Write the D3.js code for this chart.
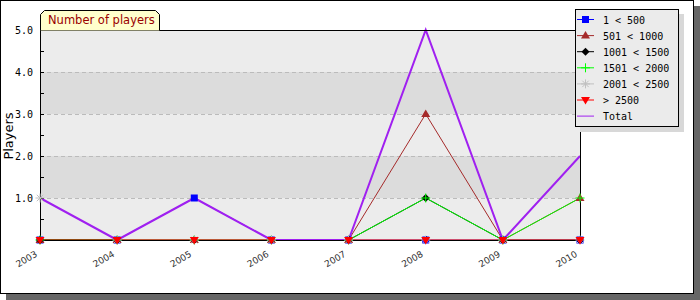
<!DOCTYPE html>
<html>
<head>
<meta charset="utf-8">
<script src="https://cdn.jsdelivr.net/npm/d3@7"></script>
<style>
body { margin: 0; background: #fff; }
svg { display: block; }
</style>
</head>
<body>
<script>
// values
var years = ["2003", "2004", "2005", "2006", "2007", "2008", "2009", "2010"];
var seriesNames = ["1 < 500", "501 < 1000", "1001 < 1500", "1501 < 2000", "2001 < 2500", "> 2500"];
var s1 = [0, 0, 1, 0, 0, 0, 0, 0];
var s2 = [0, 0, 0, 0, 0, 3, 0, 1];
var s3 = [0, 0, 0, 0, 0, 1, 0, 0];
var s4 = [0, 0, 0, 0, 0, 1, 0, 1];
var s5 = [1, 0, 0, 0, 0, 0, 0, 0];
var s6 = [0, 0, 0, 0, 0, 0, 0, 0];
var total = [1, 0, 1, 0, 0, 5, 0, 2];
var yTicks = [1, 2, 3, 4, 5];

var series = [
  {name: seriesNames[0], values: s1, color: "#0000ff", shape: "square"},
  {name: seriesNames[1], values: s2, color: "#a52a2a", shape: "triangle"},
  {name: seriesNames[2], values: s3, color: "#000000", shape: "diamond"},
  {name: seriesNames[3], values: s4, color: "#00ff00", shape: "plus"},
  {name: seriesNames[4], values: s5, color: "#c0c0c0", shape: "star"},
  {name: seriesNames[5], values: s6, color: "#ff0000", shape: "down"}
];

var W = 700, H = 300;
var svg = d3.select("body").append("svg").attr("width", W).attr("height", H);

// frame + shadow
svg.append("rect").attr("x", 6).attr("y", 6).attr("width", 694).attr("height", 294).attr("fill", "#666");
svg.append("rect").attr("x", 0.5).attr("y", 0.5).attr("width", 693).attr("height", 293)
  .attr("fill", "#fff").attr("stroke", "#000");

var pLeft = 40, pRight = 580, pTop = 30, pBottom = 240;
var x = d3.scalePoint().domain(years).range([pLeft, pRight]);
var y = d3.scaleLinear().domain([0, 5]).range([pBottom, pTop]);

var g = svg.append("g");

// bands
d3.range(0, 5).forEach(function(i) {
  g.append("rect")
    .attr("x", pLeft).attr("y", y(i + 1))
    .attr("width", pRight - pLeft).attr("height", y(i) - y(i + 1))
    .attr("fill", i % 2 == 0 ? "#ececec" : "#dcdcdc");
});

// dashed grid
g.selectAll(".grid").data([1, 2, 3, 4]).enter().append("line")
  .attr("x1", pLeft).attr("x2", pRight)
  .attr("y1", function(d) { return y(d) + 0.5; }).attr("y2", function(d) { return y(d) + 0.5; })
  .attr("stroke", "#bbb").attr("stroke-dasharray", "4,3");

// lines
var line = d3.line()
  .x(function(d, i) { return x(years[i]); })
  .y(function(d) { return y(d); });

series.forEach(function(s) {
  g.append("path").attr("d", line(s.values))
    .attr("fill", "none").attr("stroke", s.color).attr("stroke-width", 1);
});
g.append("path").attr("d", line(total))
  .attr("fill", "none").attr("stroke", "#a020f0").attr("stroke-width", 2);

// plot border (over the lines)
g.append("rect").attr("x", pLeft + 0.5).attr("y", pTop + 0.5)
  .attr("width", pRight - pLeft).attr("height", pBottom - pTop)
  .attr("fill", "none").attr("stroke", "#000");

// y ticks (inside)
g.selectAll(".ytick").data(d3.range(1, 11).map(function(d) { return d / 2; })).enter().append("line")
  .attr("x1", pLeft).attr("x2", pLeft + 4)
  .attr("y1", function(d) { return Math.round(y(d)) + 0.5; })
  .attr("y2", function(d) { return Math.round(y(d)) + 0.5; })
  .attr("stroke", "#000");

g.selectAll(".ylab").data(yTicks).enter().append("text")
  .attr("x", 33).attr("y", function(d) { return y(d) + 4; })
  .attr("text-anchor", "end")
  .style("font", "10px 'DejaVu Sans Mono'")
  .text(function(d) { return d3.format(".1f")(d); });

svg.append("text")
  .attr("transform", "translate(13,136) rotate(-90)")
  .attr("text-anchor", "middle")
  .style("font", "13px 'DejaVu Sans'")
  .text("Players");

// x ticks (inside)
g.selectAll(".xtick").data(years).enter().append("line")
  .attr("x1", function(d) { return Math.round(x(d)) + 0.5; })
  .attr("x2", function(d) { return Math.round(x(d)) + 0.5; })
  .attr("y1", pBottom).attr("y2", pBottom - 4)
  .attr("stroke", "#000");

g.selectAll(".xlab").data(years).enter().append("text")
  .attr("transform", function(d) { return "translate(" + (x(d) - 2) + "," + (pBottom + 16) + ") rotate(-30)"; })
  .attr("text-anchor", "end")
  .attr("fill", "#333")
  .style("font", "9px 'DejaVu Sans'")
  .text(function(d) { return d; });

// markers
function marker(sel, shape, color) {
  if (shape == "square") {
    sel.append("rect").attr("x", -3.5).attr("y", -3.5).attr("width", 7).attr("height", 7).attr("fill", color);
  } else if (shape == "triangle") {
    sel.append("path").attr("d", "M0,-4.5L4.5,3L-4.5,3Z").attr("fill", color);
  } else if (shape == "down") {
    sel.append("path").attr("d", "M-4.5,-3L4.5,-3L0,4.5Z").attr("fill", color);
  } else if (shape == "diamond") {
    sel.append("path").attr("d", "M0,-4L4,0L0,4L-4,0Z").attr("fill", color);
  } else if (shape == "plus") {
    sel.append("path").attr("d", "M-4.5,0H4.5M0,-4.5V4.5").attr("stroke", color).attr("stroke-width", 1);
  } else if (shape == "star") {
    sel.append("path").attr("d", "M-4.5,0H4.5M0,-4.5V4.5M-3.2,-3.2L3.2,3.2M-3.2,3.2L3.2,-3.2")
      .attr("stroke", color).attr("stroke-width", 1);
  }
}

series.forEach(function(s) {
  s.values.forEach(function(v, i) {
    var m = g.append("g").attr("transform", "translate(" + x(years[i]) + "," + y(v) + ")");
    marker(m, s.shape, s.color);
  });
});

// title tab
svg.append("path")
  .attr("d", "M40.5,30.5V14.5L44.5,10.5H155.5L159.5,14.5V30.5")
  .attr("fill", "#ffffcc").attr("stroke", "#000");
svg.append("text")
  .attr("x", 48).attr("y", 24)
  .attr("fill", "#990000")
  .style("font", "11.5px 'DejaVu Sans'")
  .text("Number of players");

// legend
var lg = svg.append("g");
lg.append("rect").attr("x", 580).attr("y", 14).attr("width", 104).attr("height", 118).attr("fill", "#d8d8d8");
lg.append("rect").attr("x", 575.5).attr("y", 9.5).attr("width", 103).attr("height", 117)
  .attr("fill", "#ebebeb").attr("stroke", "#000");

var legendItems = series.concat([{name: "Total", color: "#a020f0", shape: "none"}]);
legendItems.forEach(function(s, i) {
  var ly = 19.5 + i * 16.1;
  var row = lg.append("g").attr("transform", "translate(0," + ly + ")");
  row.append("line").attr("x1", 577).attr("x2", 594).attr("y1", 0).attr("y2", 0)
    .attr("stroke", s.color);
  var m = row.append("g").attr("transform", "translate(585.5,0)");
  marker(m, s.shape, s.color);
  row.append("text").attr("x", 603).attr("y", 4)
    .style("font", "10px 'DejaVu Sans Mono'")
    .text(s.name);
});
</script>
</body>
</html>
